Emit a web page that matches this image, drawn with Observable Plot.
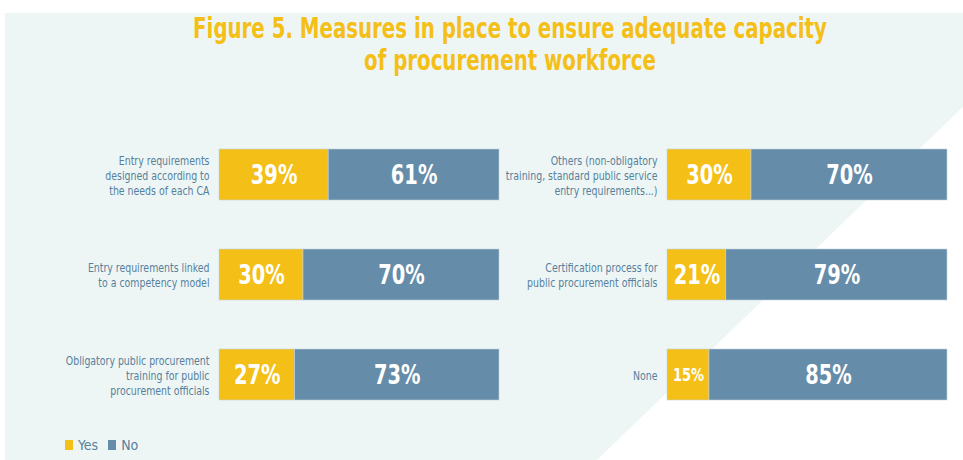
<!DOCTYPE html>
<html><head><meta charset="utf-8">
<script src="https://cdn.jsdelivr.net/npm/d3@7"></script>
<script src="https://cdn.jsdelivr.net/npm/@observablehq/plot@0.6"></script>
<style>
body{margin:0;background:#fff;}
#wrap{position:relative;width:963px;height:460px;overflow:hidden;font-family:"Liberation Sans Narrow","DejaVu Sans Condensed",sans-serif;font-stretch:condensed;}
#bg{position:absolute;left:5px;top:13px;width:958px;height:447px;background:#eef6f5;clip-path:polygon(0 0,100% 0,100% 94px,592px 447px,0 447px);}
#title{position:absolute;left:0;top:13px;width:1020px;text-align:center;color:#f4bf17;font-weight:bold;font-size:28px;line-height:32px;transform:scaleX(0.785);transform-origin:center;}
#chart{position:absolute;left:0;top:0;}
#legend{position:absolute;left:65px;top:437px;display:flex;align-items:center;gap:6px;color:#56809c;font-size:14px;}
#legend .sw{display:inline-block;width:8px;height:10px;margin-right:5px;}
#legend span.item{display:flex;align-items:center;margin-right:4px;}
</style>
</head><body>
<div id="wrap">
  <div id="bg"></div>
  <div id="title">Figure 5. Measures in place to ensure adequate capacity<br>of procurement workforce</div>
  <div id="chart"></div>
  <div id="legend"></div>
</div>
<script>
const panels = ["left", "left", "left", "right", "right", "right"];
const rows = [1, 2, 3, 1, 2, 3];
const categories = [
  "Entry requirements\ndesigned according to\nthe needs of each CA",
  "Entry requirements linked\nto a competency model",
  "Obligatory public procurement\ntraining for public\nprocurement officials",
  "Others (non-obligatory\ntraining, standard public service\nentry requirements...)",
  "Certification process for\npublic procurement officials",
  "None"
];
const yesValues = [39, 30, 27, 30, 21, 15];
const noValues = [61, 70, 73, 70, 79, 85];
const answers = ["Yes", "No"];
const colors = ["#f4bf17", "#658ca8"];

const data = categories.flatMap((c, i) => [
  {panel: panels[i], row: rows[i], category: c, answer: "Yes", value: yesValues[i]},
  {panel: panels[i], row: rows[i], category: c, answer: "No", value: noValues[i]}
]);
const cats = categories.map((c, i) => ({panel: panels[i], row: rows[i], category: c}));

const plot = Plot.plot({
  width: 963, height: 460,
  marginLeft: 218, marginRight: 15, marginTop: 100, marginBottom: 11,
  style: {background: "transparent", fontFamily: "'Liberation Sans Narrow','DejaVu Sans Condensed',sans-serif"},
  fx: {domain: ["left", "right"], padding: 0.374, axis: null, label: null},
  x: {domain: [0, 100], axis: null},
  y: {domain: [1, 2, 3], padding: 0.49, axis: null},
  color: {domain: answers, range: colors},
  marks: [
    Plot.barX(data, Plot.stackX({fx: "panel", y: "row", x: "value", fill: "answer", order: answers, stroke: "#c3d3de", strokeWidth: 0.6})),
    Plot.text(data, Plot.stackX({fx: "panel", y: "row", x: "value", z: "answer", order: answers,
      text: d => d.value + "%", fill: "white", fontWeight: "bold",
      fontSize: d => d.value < 20 ? 18 : 27})),
    Plot.text(cats, {fx: "panel", y: "row", frameAnchor: "left", dx: -10, textAnchor: "end",
      text: "category", fill: "#56809c", fontSize: 12, lineHeight: 1.25})
  ]
});
document.getElementById("chart").appendChild(plot);

// condense text horizontally around its anchor point
function condense(el, s) {
  const t = el.getAttribute("transform") || "";
  if (t.includes("translate")) {
    el.setAttribute("transform", t + ` scale(${s},1)`);
  } else {
    const x = +el.getAttribute("x") || 0, y = +el.getAttribute("y") || 0;
    el.setAttribute("transform", `translate(${x},${y}) scale(${s},1) translate(${-x},${-y})`);
  }
}
const textGroups = plot.querySelectorAll('g[aria-label="text"]');
textGroups.forEach((g, gi) => {
  g.querySelectorAll("text").forEach(el => condense(el, gi === 0 ? 0.8 : 0.87));
});

const legend = document.getElementById("legend");
const colorScale = plot.scale("color");
colorScale.domain.forEach((a, i) => {
  const item = document.createElement("span");
  item.className = "item";
  const sw = document.createElement("span");
  sw.className = "sw";
  sw.style.background = colorScale.range[i];
  item.appendChild(sw);
  item.appendChild(document.createTextNode(a));
  legend.appendChild(item);
});
</script>
</body></html>
